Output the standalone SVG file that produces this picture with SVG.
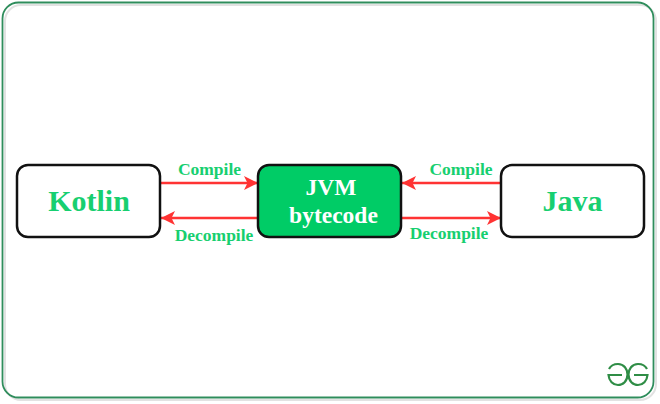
<svg xmlns="http://www.w3.org/2000/svg" width="660" height="404" viewBox="0 0 660 404">
<style>
.box{fill:#fff;stroke:#111;stroke-width:2.5}
.t{font-family:"Liberation Serif","Times New Roman",serif;font-weight:bold;text-anchor:middle}
.n{font-size:30px;fill:#17cf70}
.w{font-size:23.500px;fill:#fff}
.l{font-size:17.500px;fill:#17cf70}
.a{stroke:#ff3333;stroke-width:2.600;fill:none;marker-end:url(#h)}
.logo{fill:none;stroke:#2f8d46;stroke-width:2.200}
</style>
<defs>
<marker id="h" markerUnits="userSpaceOnUse" markerWidth="15" markerHeight="15" refX="14" refY="7.500" orient="auto">
<path d="M0 0.500L14 7.500L0 14.500L3.500 7.500Z" fill="#ff3333"/>
</marker>
</defs>
<rect width="660" height="404" fill="#fff"/>
<rect id="shadow" x="5" y="5" width="651" height="395" rx="16" fill="none" stroke="#e2e2e2" stroke-width="2"/>
<rect id="frame" x="2.500" y="2.500" width="651" height="395" rx="16" fill="none" stroke="#2f8d5c" stroke-width="1.800"/>
<g id="connectors">
<line class="a" x1="160" y1="183" x2="258" y2="183"/>
<line class="a" x1="258" y1="218" x2="161" y2="218"/>
<line class="a" x1="501" y1="183" x2="402" y2="183"/>
<line class="a" x1="401" y1="218" x2="501" y2="218"/>
<text class="t l" x="209.500" y="175">Compile</text>
<text class="t l" x="214" y="241">Decompile</text>
<text class="t l" x="461" y="175">Compile</text>
<text class="t l" x="449" y="239">Decompile</text>
</g>
<g id="kotlin">
<rect class="box" x="17" y="165" width="143" height="72" rx="11"/>
<text class="t n" x="89" y="211">Kotlin</text>
</g>
<g id="jvm">
<rect class="box" x="258" y="165" width="143" height="72" rx="11" style="fill:#00cc66"/>
<text class="t w" x="331" y="195">JVM</text>
<text class="t w" x="333.500" y="223">bytecode</text>
</g>
<g id="java">
<rect class="box" x="501" y="165" width="143" height="72" rx="11"/>
<text class="t n" x="572.500" y="211">Java</text>
</g>
<g id="logo">
<path class="logo" d="M647 369C645 365 641 364 638 364C632 364 628.500 369 628.500 374.500C628.500 381 633 385 638 385C643 385 647 381 647.500 375H634"/>
<path class="logo" d="M609 369C611 365 615 364 618 364C624 364 627.500 369 627.500 374.500C627.500 381 623 385 618 385C613 385 609 381 608.500 375H622"/>
</g>
</svg>
